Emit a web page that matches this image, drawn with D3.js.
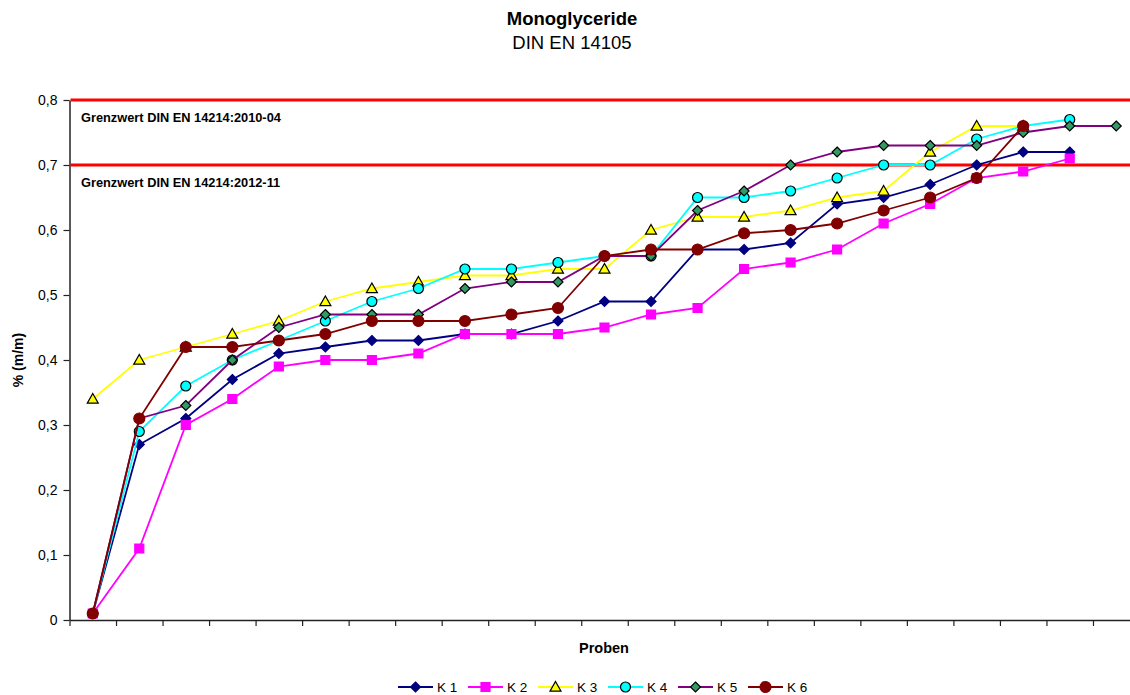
<!DOCTYPE html>
<html>
<head>
<meta charset="utf-8">
<script src="https://cdn.jsdelivr.net/npm/d3@7"></script>
<style>
  body { margin: 0; background: #fff; }
  svg { display: block; font-family: "Liberation Sans", Arial, sans-serif; }
</style>
</head>
<body>
<svg id="chart" width="1130" height="695"></svg>
<script>
// Monoglyceride content per sample (% m/m), sorted ascending per series
const sampleCount = 23;
const k1 = [0.01, 0.27, 0.31, 0.37, 0.41, 0.42, 0.43, 0.43, 0.44, 0.44, 0.46, 0.49, 0.49, 0.57, 0.57, 0.58, 0.64, 0.65, 0.67, 0.70, 0.72, 0.72];
const k2 = [0.01, 0.11, 0.30, 0.34, 0.39, 0.40, 0.40, 0.41, 0.44, 0.44, 0.44, 0.45, 0.47, 0.48, 0.54, 0.55, 0.57, 0.61, 0.64, 0.68, 0.69, 0.71];
const k3 = [0.34, 0.40, 0.42, 0.44, 0.46, 0.49, 0.51, 0.52, 0.53, 0.53, 0.54, 0.54, 0.60, 0.62, 0.62, 0.63, 0.65, 0.66, 0.72, 0.76, 0.76];
const k4 = [0.01, 0.29, 0.36, 0.40, 0.43, 0.46, 0.49, 0.51, 0.54, 0.54, 0.55, 0.56, 0.56, 0.65, 0.65, 0.66, 0.68, 0.70, 0.70, 0.74, 0.76, 0.77];
const k5 = [0.01, 0.31, 0.33, 0.40, 0.45, 0.47, 0.47, 0.47, 0.51, 0.52, 0.52, 0.56, 0.56, 0.63, 0.66, 0.70, 0.72, 0.73, 0.73, 0.73, 0.75, 0.76, 0.76];
const k6 = [0.01, 0.31, 0.42, 0.42, 0.43, 0.44, 0.46, 0.46, 0.46, 0.47, 0.48, 0.56, 0.57, 0.57, 0.595, 0.60, 0.61, 0.63, 0.65, 0.68, 0.76];
const seriesNames = ["K 1", "K 2", "K 3", "K 4", "K 5", "K 6"];
const yTicks = [0, 0.1, 0.2, 0.3, 0.4, 0.5, 0.6, 0.7, 0.8];
const limitValues = [0.8, 0.7];
const limitLabels = ["Grenzwert DIN EN 14214:2010-04", "Grenzwert DIN EN 14214:2012-11"];

// Visual style for each series: line colour, marker shape and marker colours
const styles = [
  { line: "#000080", shape: "diamond", fill: "#000080", stroke: "#000080", size: 5 },
  { line: "#FF00FF", shape: "square",  fill: "#FF00FF", stroke: "#FF00FF", size: 4.5 },
  { line: "#FFFF00", shape: "triangle", fill: "#FFFF00", stroke: "#000000", size: 5.5 },
  { line: "#00FFFF", shape: "circle",  fill: "#00FFFF", stroke: "#000000", size: 5 },
  { line: "#800080", shape: "diamond", fill: "#339966", stroke: "#000000", size: 5 },
  { line: "#800000", shape: "circle",  fill: "#800000", stroke: "#800000", size: 5.5 }
];
const seriesValues = [k1, k2, k3, k4, k5, k6];
const series = seriesNames.map((name, i) => ({ name, values: seriesValues[i], style: styles[i] }));

const svg = d3.select("#chart");
const plotLeft = 69.5, plotRight = 1139.5, plotTop = 100, plotBottom = 620;

const xEdge = d3.scaleLinear().domain([0, sampleCount]).range([plotLeft, plotRight]);
const xPos = i => xEdge(i + 0.5);
const y = d3.scaleLinear().domain([0, 0.8]).range([plotBottom, plotTop]);

function markerPath(shape, s) {
  switch (shape) {
    case "diamond": return `M0,${-s}L${s},0L0,${s}L${-s},0Z`;
    case "square": return `M${-s},${-s}H${s}V${s}H${-s}Z`;
    case "triangle": return `M0,${-s}L${s},${s * 0.75}L${-s},${s * 0.75}Z`;
    default: return d3.arc()({ innerRadius: 0, outerRadius: s, startAngle: 0, endAngle: 2 * Math.PI });
  }
}

// Titles
svg.append("text").attr("x", 572).attr("y", 25).attr("text-anchor", "middle")
  .attr("font-size", 18.5).attr("font-weight", "bold").text("Monoglyceride");
svg.append("text").attr("x", 572).attr("y", 49).attr("text-anchor", "middle")
  .attr("font-size", 18.5).text("DIN EN 14105");

// Y axis
const fmt = v => v === 0 ? "0" : d3.format(".1f")(v).replace(".", ",");
const yAxis = svg.append("g").attr("transform", `translate(${plotLeft},0)`)
  .call(d3.axisLeft(y).tickValues(yTicks).tickFormat(fmt).tickSize(6).tickSizeOuter(0).tickPadding(6));
yAxis.select(".domain").attr("stroke", "#222").attr("stroke-width", 1.5);
yAxis.selectAll(".tick line").attr("stroke", "#222").attr("stroke-width", 1.2);
yAxis.selectAll(".tick text").attr("font-size", 14).attr("fill", "#000")
  .attr("font-family", "Liberation Sans, Arial, sans-serif");

// X axis: tick marks on sample boundaries, no labels
const xAxis = svg.append("g").attr("transform", `translate(0,${plotBottom})`)
  .call(d3.axisBottom(xEdge).tickValues(d3.range(0, sampleCount + 1)).tickFormat("").tickSize(6).tickSizeOuter(0));
xAxis.select(".domain").attr("stroke", "#222").attr("stroke-width", 1.5);
xAxis.selectAll(".tick line").attr("stroke", "#222").attr("stroke-width", 1.2);

// Axis titles
svg.append("text").attr("x", 604).attr("y", 653).attr("text-anchor", "middle")
  .attr("font-size", 14.5).attr("font-weight", "bold").text("Proben");
svg.append("text").attr("transform", `translate(23,${(plotTop + plotBottom) / 2}) rotate(-90)`)
  .attr("text-anchor", "middle").attr("font-size", 14).attr("font-weight", "bold").text("% (m/m)");

// Limit lines with captions
const limits = limitValues.map((v, i) => ({ v, label: limitLabels[i] }));
svg.append("g").selectAll("line").data(limits).join("line")
  .attr("x1", plotLeft + 1).attr("x2", plotRight)
  .attr("y1", d => y(d.v)).attr("y2", d => y(d.v))
  .attr("stroke", "#FF0000").attr("stroke-width", 2.8);
svg.append("g").selectAll("text").data(limits).join("text")
  .attr("x", 81).attr("y", d => y(d.v) + 22)
  .attr("font-size", 12.8).attr("font-weight", "bold").text(d => d.label);

// Series lines and markers
const line = d3.line().x((d, i) => xPos(i)).y(d => y(d));
const plot = svg.append("g");
series.forEach(s => {
  const g = plot.append("g");
  g.append("path").datum(s.values).attr("d", line)
    .attr("fill", "none").attr("stroke", s.style.line).attr("stroke-width", 1.8);
  g.selectAll("path.m").data(s.values).join("path").attr("class", "m")
    .attr("transform", (d, i) => `translate(${xPos(i)},${y(d)})`)
    .attr("d", markerPath(s.style.shape, s.style.size))
    .attr("fill", s.style.fill).attr("stroke", s.style.stroke).attr("stroke-width", 1.2);
});

// Legend
const legend = svg.append("g").attr("transform", "translate(398,687)");
const item = legend.selectAll("g").data(series).join("g")
  .attr("transform", (d, i) => `translate(${i * 70},0)`);
item.append("line").attr("x1", 0).attr("x2", 35).attr("y1", 0).attr("y2", 0)
  .attr("stroke", d => d.style.line).attr("stroke-width", 1.8);
item.append("path").attr("transform", "translate(17.5,0)")
  .attr("d", d => markerPath(d.style.shape, d.style.size))
  .attr("fill", d => d.style.fill).attr("stroke", d => d.style.stroke).attr("stroke-width", 1.2);
item.append("text").attr("x", 39).attr("y", 0).attr("dy", "0.35em").attr("font-size", 13.5).text(d => d.name);
</script>
</body>
</html>
